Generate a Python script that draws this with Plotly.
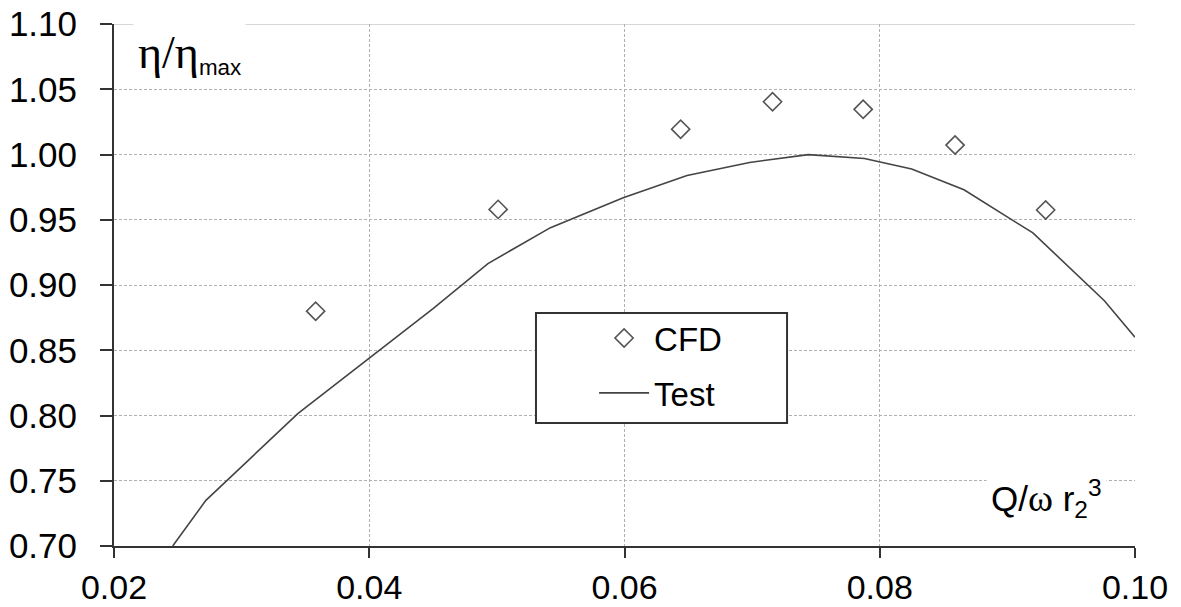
import plotly.graph_objects as go

# ---- data ----
cfd_x = [0.0358, 0.0501, 0.0644, 0.0716, 0.0787, 0.0859, 0.0930]
cfd_y = [0.880, 0.958, 1.0195, 1.0405, 1.0347, 1.0073, 0.9575]

test_x = [0.0246, 0.0272, 0.0344, 0.0450, 0.0493, 0.0542, 0.0599, 0.0649,
          0.0698, 0.0744, 0.0788, 0.0825, 0.0866, 0.0920, 0.0976, 0.1000]
test_y = [0.700, 0.735, 0.8015, 0.882, 0.9165, 0.944, 0.967, 0.984,
          0.994, 1.000, 0.997, 0.989, 0.973, 0.940, 0.888, 0.860]

x_ticks = [0.02, 0.04, 0.06, 0.08, 0.10]
x_ticklabels = ["0.02", "0.04", "0.06", "0.08", "0.10"]
y_ticks = [0.70, 0.75, 0.80, 0.85, 0.90, 0.95, 1.00, 1.05, 1.10]
y_ticklabels = ["0.70", "0.75", "0.80", "0.85", "0.90", "0.95", "1.00", "1.05", "1.10"]

SANS = "Liberation Sans, Arial, sans-serif"
SERIF = "Liberation Serif, Times New Roman, serif"

fig = go.Figure()
fig.add_trace(go.Scatter(
    x=cfd_x, y=cfd_y, mode="markers", name="CFD",
    marker=dict(symbol="diamond-open", size=14, color="#555555", line=dict(width=1.6, color="#555555")),
    legendgroup="a",
))
fig.add_trace(go.Scatter(
    x=test_x, y=test_y, mode="lines", name="Test",
    line=dict(color="#444444", width=1.6),
    legendgroup="b",
))

grid = dict(showgrid=True, gridcolor="#b0b0b0", gridwidth=1, griddash="3px,2px")

# page body adds an 8px offset, so the figure is 8px smaller than the window
fig.update_layout(
    width=1173, height=599,
    margin=dict(l=106, r=46, t=16, b=61, autoexpand=False),
    paper_bgcolor="white", plot_bgcolor="white",
    font=dict(family=SANS, size=35, color="black"),
    showlegend=True,
    legend=dict(
        x=0.4702, y=0.452, xanchor="left", yanchor="top",
        bgcolor="rgba(0,0,0,0)", borderwidth=0,
        font=dict(family=SANS, size=33, color="black"),
        itemwidth=50, tracegroupgap=9, traceorder="grouped",
    ),
    xaxis=dict(
        range=[0.02, 0.10], tickvals=x_ticks, ticktext=x_ticklabels,
        showline=True, linecolor="#333333", linewidth=2,
        ticks="outside", ticklen=10, tickwidth=2, tickcolor="#333333",
        ticklabelstandoff=0, ticklabeloverflow="allow",
        tickfont=dict(size=34),
        zeroline=False, automargin=False, **grid,
    ),
    yaxis=dict(
        range=[0.70, 1.1001], tickvals=y_ticks, ticktext=y_ticklabels,
        showline=True, linecolor="#333333", linewidth=2,
        ticks="outside", ticklen=12, tickwidth=2, tickcolor="#333333",
        ticklabelstandoff=16, ticklabeloverflow="allow",
        zeroline=False, automargin=False, **grid,
    ),
    shapes=[
        dict(
            type="line", xref="paper", yref="y",
            x0=0, x1=1, y0=y_ticks[-1], y1=y_ticks[-1],
            line=dict(color="#c0c0c0", width=1), layer="below",
        ),
        dict(
            type="rect", xref="paper", yref="paper",
            x0=0.4133, x1=0.6592, y0=0.2356, y1=0.4464,
            line=dict(color="#333333", width=2), fillcolor="white", layer="above",
        ),
    ],
    annotations=[
        dict(
            xref="paper", yref="paper", x=0.019, y=1.004, xanchor="left", yanchor="top",
            text=(f'<span style="font-family:{SERIF};font-size:46px">η/η</span>'
                  f'<sub>max</sub>'),
            showarrow=False, bgcolor="white", borderpad=4,
            font=dict(family=SANS, size=32, color="black"),
        ),
        dict(
            xref="paper", yref="paper", x=0.9725, y=0.035, xanchor="right", yanchor="bottom",
            text=f'Q/<span style="font-family:{SERIF};font-size:38px">ω</span> r<sub>2</sub><sup>3</sup>',
            showarrow=False, bgcolor="white", borderpad=4,
            font=dict(family=SANS, size=35, color="black"),
        ),
    ],
)

fig.write_html("out.html")
